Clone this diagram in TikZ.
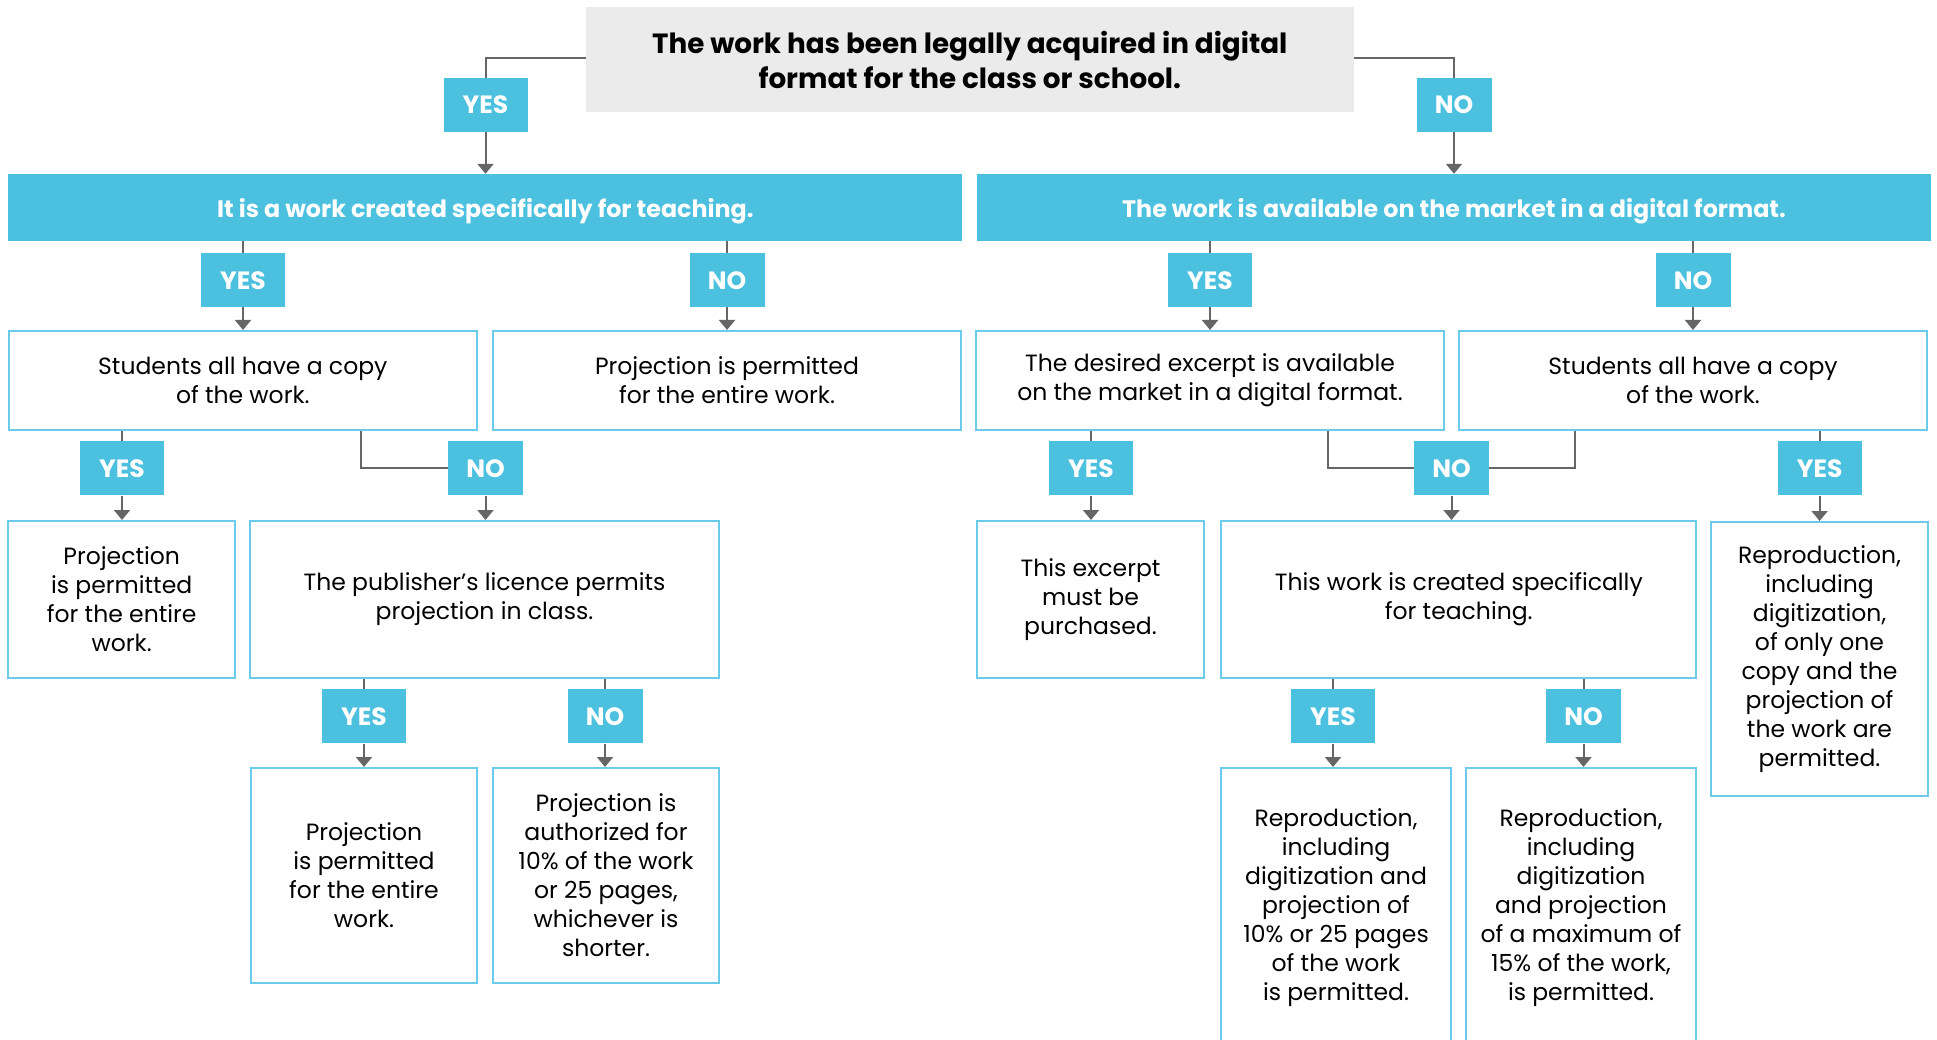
\documentclass[tikz,border=0pt]{standalone}
\usepackage{fontspec}
\setmainfont{Poppins}
\usetikzlibrary{arrows.meta}

\definecolor{tagblue}{HTML}{4BC0DF}
\definecolor{boxline}{HTML}{6CCBEA}
\definecolor{topgray}{HTML}{EBEBEB}
\definecolor{linkgray}{HTML}{666666}

\begin{document}
\begin{tikzpicture}[
    x=1pt, y=-1pt,
    question/.style={rectangle, fill=topgray, minimum width=768pt, minimum height=105pt, align=center, font=\fontsize{27.8}{35}\selectfont\bfseries},
    bar/.style={rectangle, fill=tagblue, text=white, minimum width=954pt, minimum height=67pt, text height=22pt, text depth=2pt, font=\fontsize{23.8}{28}\selectfont\bfseries},
    tag/.style={rectangle, fill=tagblue, text=white, minimum height=54pt, inner sep=0pt, text height=18pt, text depth=0pt, font=\fontsize{25}{28}\selectfont\bfseries},
    yestag/.style={tag, minimum width=84pt},
    notag/.style={tag, minimum width=75pt},
    box/.style={rectangle, draw=boxline, line width=2pt, align=center, inner sep=0pt, font=\fontsize{23.5}{29}\selectfont},
    link/.style={draw=linkgray, line width=2pt},
    arrow/.style={link, -{Triangle[width=16pt,length=10pt]}}
]
    \useasboundingbox (0,0) rectangle (1937,1040);
    \clip (0,0) rectangle (1937,1040);

    % Top question
    \node (acquired) [question] at (969.75,60) {The work has been legally acquired in digital\\format for the class or school.};
    \node (yA) [yestag] at (485.5,105) {YES};
    \node (nA) [notag] at (1454,105) {NO};

    % Bars
    \node (teach) [bar] at (485.3,207.5) {It is a work created specifically for teaching.};
    \node (market) [bar] at (1454,207.5) {The work is available on the market in a digital format.};

    % Second level
    \node (yB) [yestag] at (243,280.3) {YES};
    \node (nB) [notag] at (727,280.3) {NO};
    \node (yB2) [yestag] at (1210,280.3) {YES};
    \node (nB2) [notag] at (1693,280.3) {NO};

    \node (copyL) [box, minimum width=468pt, minimum height=99pt] at (242.8,380.5) {Students all have a copy\\of the work.};
    \node (projAll) [box, minimum width=468pt, minimum height=99pt] at (727,380.5) {Projection is permitted\\for the entire work.};
    \node (excerpt) [box, minimum width=468pt, minimum height=99pt] at (1210,380.5) {The desired excerpt is available\\on the market in a digital format.};
    \node (copyR) [box, minimum width=468pt, minimum height=99pt] at (1693,380.5) {Students all have a copy\\of the work.};

    % Third level
    \node (yC) [yestag] at (122,468.3) {YES};
    \node (nC) [notag] at (485.5,468.3) {NO};
    \node (yD) [yestag] at (1091,468.3) {YES};
    \node (nD) [notag] at (1451.5,468.3) {NO};
    \node (yF) [yestag] at (1819.6,468.3) {YES};

    \node (projL) [box, minimum width=227pt, minimum height=157pt] at (121.7,599.5) {Projection\\is permitted\\for the entire\\work.};
    \node (licence) [box, minimum width=469pt, minimum height=157pt] at (484.5,599.5) {The publisher’s licence permits\\projection in class.};
    \node (buy) [box, minimum width=227pt, minimum height=157pt] at (1090.5,599.5) {This excerpt\\must be\\purchased.};
    \node (created) [box, minimum width=475pt, minimum height=157pt] at (1458.8,599.5) {This work is created specifically\\for teaching.};
    \node (reproOne) [box, minimum width=217pt, minimum height=274pt] at (1819.5,659) {Reproduction,\\including\\digitization,\\of only one\\copy and the\\projection of\\the work are\\permitted.};

    % Fourth level
    \node (yE) [yestag] at (364,716.3) {YES};
    \node (nE) [notag] at (605,716.3) {NO};
    \node (yG) [yestag] at (1333,716.3) {YES};
    \node (nG) [notag] at (1583.5,716.3) {NO};

    \node (projP) [box, minimum width=226pt, minimum height=215pt] at (364,875.5) {Projection\\is permitted\\for the entire\\work.};
    \node (authorized) [box, minimum width=226pt, minimum height=215pt] at (606,875.5) {Projection is\\authorized for\\10\% of the work\\or 25 pages,\\whichever is\\shorter.};
    \node (reproTen) [box, minimum width=230pt, minimum height=280pt] at (1336,908) {Reproduction,\\including\\digitization and\\projection of\\10\% or 25 pages\\of the work\\is permitted.};
    \node (reproFifteen) [box, minimum width=230pt, minimum height=280pt] at (1581,908) {Reproduction,\\including\\digitization\\and projection\\of a maximum of\\15\% of the work,\\is permitted.};

    % Links
    \draw [link] (acquired.west |- 0,58.5) -| (yA.north);
    \draw [arrow] (yA.south) -- (yA.south |- teach.north);
    \draw [link] (acquired.east |- 0,58.5) -| (nA.north);
    \draw [arrow] (nA.south) -- (nA.south |- market.north);

    \draw [link] (teach.south -| yB) -- (yB.north);
    \draw [arrow] (yB.south) -- (yB.south |- copyL.north);
    \draw [link] (teach.south -| nB) -- (nB.north);
    \draw [arrow] (nB.south) -- (nB.south |- projAll.north);
    \draw [link] (market.south -| yB2) -- (yB2.north);
    \draw [arrow] (yB2.south) -- (yB2.south |- excerpt.north);
    \draw [link] (market.south -| nB2) -- (nB2.north);
    \draw [arrow] (nB2.south) -- (nB2.south |- copyR.north);

    \draw [link] (copyL.south -| yC) -- (yC.north);
    \draw [arrow] (yC.south) -- (yC.south |- projL.north);
    \draw [link] ([xshift=118pt]copyL.south) |- (nC.west);
    \draw [arrow] (nC.south) -- (nC.south |- licence.north);
    \draw [link] (excerpt.south -| yD) -- (yD.north);
    \draw [arrow] (yD.south) -- (yD.south |- buy.north);
    \draw [link] ([xshift=118pt]excerpt.south) |- (nD.west);
    \draw [link] ([xshift=-118pt]copyR.south) |- (nD.east);
    \draw [arrow] (nD.south) -- (nD.south |- created.north);
    \draw [link] (copyR.south -| yF) -- (yF.north);
    \draw [arrow] (yF.south) -- (yF.south |- reproOne.north);

    \draw [link] (licence.south -| yE) -- (yE.north);
    \draw [arrow] (yE.south) -- (yE.south |- projP.north);
    \draw [link] (licence.south -| nE) -- (nE.north);
    \draw [arrow] (nE.south) -- (nE.south |- authorized.north);
    \draw [link] (created.south -| yG) -- (yG.north);
    \draw [arrow] (yG.south) -- (yG.south |- reproTen.north);
    \draw [link] (created.south -| nG) -- (nG.north);
    \draw [arrow] (nG.south) -- (nG.south |- reproFifteen.north);
\end{tikzpicture}
\end{document}
